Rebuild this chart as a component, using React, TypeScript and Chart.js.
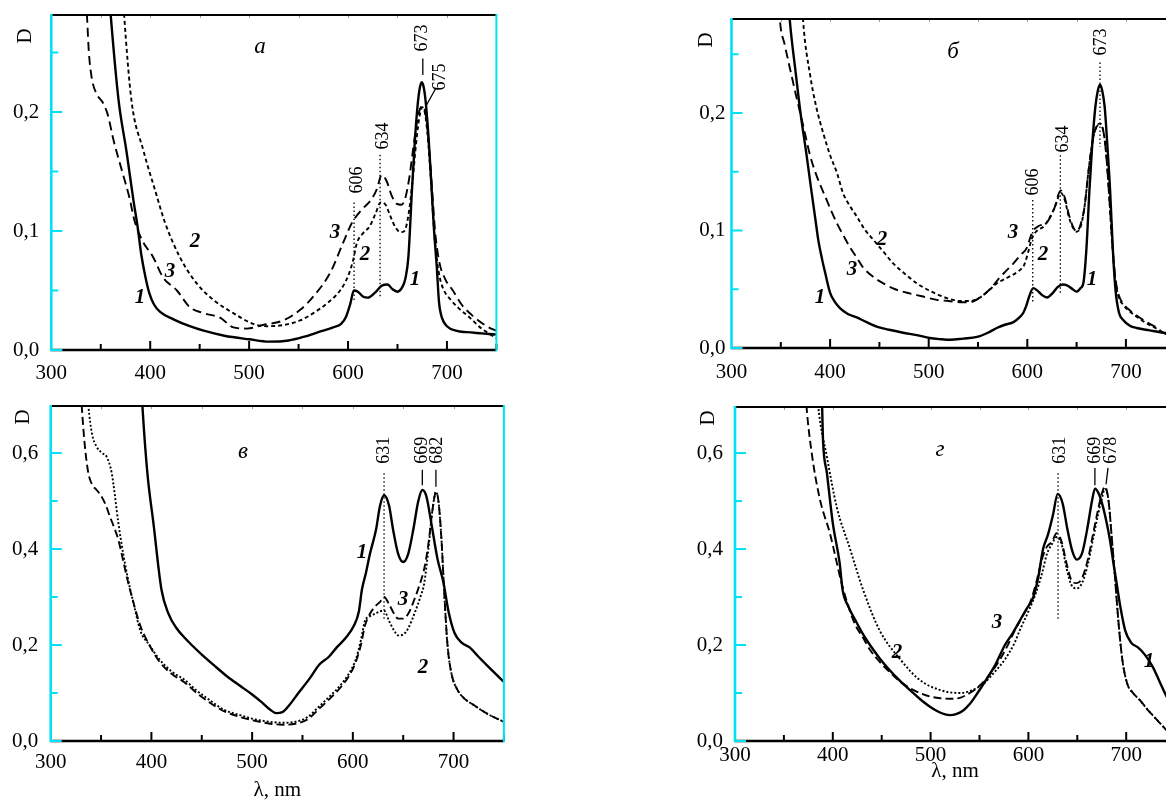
import React, { useEffect, useRef } from 'react';
import { Chart, registerables } from 'chart.js';

Chart.register(...registerables);

const SERIF = '"Liberation Serif", "Times New Roman", Times, serif';
const CYAN = '#00e2f2';

// ---------- Panel а ----------
const A1_WL = [345, 360, 368, 376, 383, 387, 391, 395, 399, 404, 410, 423, 440, 455, 475, 500, 520, 540, 555, 570, 585, 593, 598, 602, 606, 610, 615, 620, 627, 634, 640, 645, 650, 655, 658, 661, 664.6, 667.5, 670.5, 672.5, 674.6, 676.7, 678.7, 681.7, 684.6, 687, 689.7, 692, 695, 700, 710, 720, 735, 750];
const A1_D = [0.45, 0.282, 0.21, 0.167, 0.126, 0.105, 0.08, 0.062, 0.048, 0.038, 0.032, 0.026, 0.02, 0.016, 0.012, 0.009, 0.007, 0.008, 0.011, 0.015, 0.019, 0.022, 0.028, 0.038, 0.05, 0.049, 0.045, 0.044, 0.048, 0.054, 0.055, 0.051, 0.049, 0.053, 0.06, 0.078, 0.134, 0.175, 0.207, 0.22, 0.225, 0.22, 0.207, 0.175, 0.134, 0.1, 0.07, 0.04, 0.027, 0.02, 0.016, 0.015, 0.014, 0.013];
const A2_WL = [365, 373.6, 381, 393, 405, 415, 430, 447, 464, 484, 504, 518, 535, 552, 565, 580, 592, 600, 605, 609, 615, 622, 628, 633, 638, 643, 648, 653, 657, 661, 665, 669, 672, 675, 678, 681, 684, 687, 690, 693, 697, 703, 712, 722, 735, 750];
const A2_D = [0.4, 0.282, 0.21, 0.168, 0.134, 0.107, 0.078, 0.056, 0.042, 0.031, 0.022, 0.02, 0.021, 0.025, 0.031, 0.04, 0.05, 0.062, 0.075, 0.09, 0.098, 0.104, 0.115, 0.124, 0.122, 0.112, 0.103, 0.099, 0.1, 0.113, 0.14, 0.175, 0.195, 0.204, 0.198, 0.175, 0.14, 0.1, 0.075, 0.06, 0.05, 0.043, 0.035, 0.028, 0.018, 0.01];
const A3_WL = [328, 336, 338, 341, 346, 352, 357, 363, 372, 379, 384, 392, 403, 413, 427, 440, 454, 471, 484, 498, 514, 535, 552, 565, 582, 595, 604, 614, 624, 629, 634, 639, 644, 649, 654, 658, 662, 666, 670, 673, 676, 679, 682, 685, 688, 692, 698, 706, 715, 727, 740, 750];
const A3_D = [0.4, 0.282, 0.25, 0.228, 0.215, 0.208, 0.198, 0.176, 0.149, 0.128, 0.109, 0.092, 0.078, 0.061, 0.05, 0.036, 0.031, 0.027, 0.019, 0.018, 0.021, 0.025, 0.034, 0.045, 0.065, 0.09, 0.107, 0.118, 0.127, 0.135, 0.147, 0.142, 0.13, 0.123, 0.122, 0.128, 0.145, 0.17, 0.193, 0.203, 0.205, 0.195, 0.17, 0.135, 0.1, 0.075, 0.06, 0.05, 0.038, 0.028, 0.02, 0.016];

// ---------- Panel б ----------
const B1_WL = [345, 359, 365, 370, 376, 381, 385, 388, 392, 395, 400, 405, 410, 418, 427, 437, 448, 460, 474, 488, 501, 512, 522, 535, 549, 560, 569, 578, 586, 592, 596, 599, 602, 606, 610, 615, 620, 626, 631, 636, 641, 646, 650, 654, 657, 660, 663, 666, 669, 671.5, 673.7, 676, 678.5, 681, 684, 687, 689.5, 693, 697, 704, 711, 724, 738, 750];
const B1_D = [0.45, 0.28, 0.235, 0.2, 0.165, 0.134, 0.11, 0.092, 0.075, 0.064, 0.047, 0.039, 0.034, 0.029, 0.026, 0.022, 0.018, 0.0155, 0.013, 0.011, 0.0085, 0.0075, 0.007, 0.008, 0.0094, 0.013, 0.017, 0.02, 0.022, 0.026, 0.03, 0.036, 0.044, 0.051, 0.049, 0.045, 0.043, 0.047, 0.052, 0.054, 0.053, 0.05, 0.048, 0.051, 0.056, 0.085, 0.134, 0.175, 0.205, 0.219, 0.224, 0.219, 0.205, 0.175, 0.134, 0.08, 0.049, 0.03, 0.024, 0.019, 0.017, 0.015, 0.013, 0.012];
const B2_WL = [365, 372.5, 380, 386, 393, 400, 407, 413, 420, 427, 435, 444, 454, 464, 476, 488, 498, 508, 520, 532, 542, 552, 561, 569, 580, 592, 597, 601, 605, 610, 616, 622, 628, 634, 638, 642, 646, 650, 654, 658, 662, 666, 670, 673.7, 677, 680, 683, 686, 689, 692, 697, 704, 712, 721, 730, 738, 750];
const B2_D = [0.4, 0.28, 0.231, 0.205, 0.183, 0.164, 0.149, 0.132, 0.121, 0.112, 0.101, 0.092, 0.082, 0.072, 0.063, 0.055, 0.05, 0.046, 0.042, 0.04, 0.04, 0.043, 0.049, 0.055, 0.06, 0.066, 0.071, 0.082, 0.094, 0.1, 0.103, 0.11, 0.12, 0.132, 0.126, 0.112, 0.103, 0.099, 0.103, 0.12, 0.15, 0.175, 0.188, 0.191, 0.185, 0.165, 0.13, 0.09, 0.06, 0.045, 0.037, 0.031, 0.026, 0.021, 0.017, 0.013, 0.009];
const B3_WL = [340, 349, 354, 359, 366, 372.5, 380, 387, 395, 401, 407, 414, 420, 427, 433, 443, 454, 466, 478, 493, 508, 520, 532, 542, 552, 562, 572, 579, 586, 593, 600, 603, 606, 612, 620, 627, 634, 638, 642, 646, 650, 654, 658, 662, 666, 670, 673.7, 677, 680, 683, 686, 689, 692, 697, 704, 712, 721, 730, 738, 750];
const B3_D = [0.42, 0.28, 0.258, 0.239, 0.213, 0.19, 0.163, 0.145, 0.129, 0.117, 0.106, 0.095, 0.086, 0.077, 0.069, 0.061, 0.055, 0.05, 0.047, 0.044, 0.041, 0.04, 0.039, 0.039, 0.043, 0.05, 0.06, 0.066, 0.072, 0.079, 0.086, 0.094, 0.1, 0.104, 0.107, 0.118, 0.134, 0.128, 0.114, 0.104, 0.099, 0.105, 0.12, 0.15, 0.175, 0.188, 0.19, 0.185, 0.165, 0.13, 0.092, 0.062, 0.047, 0.038, 0.032, 0.027, 0.022, 0.018, 0.013, 0.009];

// ---------- Panel в ----------
const V1_WL = [386, 391, 396, 402, 410, 417, 425, 433, 440, 450, 462, 475, 488, 500, 510, 518, 524, 530, 537, 546, 557, 567, 576, 584, 593, 601, 606, 609, 613, 617, 623, 627, 631, 636, 640, 645, 650, 655, 660, 665, 669, 673, 678, 684, 690, 695, 701, 708, 716, 725, 736, 750];
const V1_D = [0.9, 0.7, 0.558, 0.454, 0.315, 0.265, 0.235, 0.215, 0.2, 0.18, 0.158, 0.135, 0.115, 0.097, 0.08, 0.065, 0.058, 0.06, 0.075, 0.1, 0.13, 0.16, 0.175, 0.195, 0.215, 0.24, 0.27, 0.315, 0.35, 0.39, 0.44, 0.49, 0.512, 0.49, 0.44, 0.39, 0.373, 0.39, 0.44, 0.5, 0.523, 0.51, 0.453, 0.38, 0.33, 0.27, 0.225, 0.205, 0.195, 0.175, 0.152, 0.123];
const V2_WL = [330, 337.4, 341, 345.7, 351, 355.6, 360.6, 367.2, 372, 377, 383, 389, 398, 408, 420, 433, 445, 458, 472, 488, 503, 518, 530, 543, 555, 568, 578, 588, 596, 603, 608, 612, 617, 622, 627, 631, 636, 641, 645, 650, 655, 662, 667, 671, 675, 679, 682.6, 685, 688, 691, 694, 698, 703, 710, 720, 735, 750];
const V2_D = [0.9, 0.698, 0.64, 0.613, 0.6, 0.592, 0.558, 0.454, 0.39, 0.335, 0.28, 0.23, 0.2, 0.17, 0.145, 0.127, 0.105, 0.085, 0.065, 0.054, 0.045, 0.04, 0.038, 0.04, 0.05, 0.075, 0.095, 0.117, 0.14, 0.17, 0.21, 0.25, 0.26, 0.265, 0.27, 0.272, 0.25, 0.23, 0.22, 0.222, 0.235, 0.27, 0.3, 0.33, 0.4, 0.48, 0.519, 0.5, 0.42, 0.3, 0.2, 0.14, 0.11, 0.09, 0.075, 0.055, 0.04];
const V3_WL = [325, 330.8, 334, 337.4, 341, 345.7, 350.6, 355, 358.9, 363, 367.2, 371, 375.5, 382, 389, 398, 408, 420, 433, 445, 458, 472, 488, 503, 518, 530, 543, 555, 568, 578, 588, 596, 603, 608, 612, 617, 622, 627, 631, 636, 641, 645, 650, 655, 662, 667, 671, 675, 679, 682.6, 685, 688, 691, 694, 698, 703, 710, 720, 735, 750];
const V3_D = [0.9, 0.698, 0.613, 0.558, 0.535, 0.523, 0.509, 0.49, 0.467, 0.445, 0.419, 0.385, 0.342, 0.29, 0.24, 0.2, 0.165, 0.14, 0.122, 0.1, 0.08, 0.062, 0.05, 0.042, 0.036, 0.034, 0.036, 0.045, 0.07, 0.09, 0.112, 0.135, 0.165, 0.2, 0.24, 0.265, 0.28, 0.29, 0.3, 0.285, 0.265, 0.255, 0.255, 0.265, 0.3, 0.33, 0.36, 0.41, 0.48, 0.519, 0.5, 0.42, 0.3, 0.2, 0.14, 0.11, 0.09, 0.075, 0.055, 0.04];

// ---------- Panel г ----------
const G1_WL = [383, 389, 390, 394, 400, 407, 410, 416, 423, 431, 438, 448, 458, 468, 479, 490, 499, 507, 514, 520, 526, 533, 540, 548, 556, 566, 576, 584, 591, 598, 605, 610, 615, 620, 625, 630, 635, 640, 645, 649.4, 655, 660, 665, 668.1, 672, 676, 680, 683.4, 687, 690.2, 694, 699, 705, 712, 719, 727, 735, 742, 750];
const G1_D = [0.9, 0.7, 0.627, 0.558, 0.454, 0.371, 0.315, 0.28, 0.252, 0.222, 0.2, 0.172, 0.148, 0.127, 0.106, 0.086, 0.072, 0.062, 0.056, 0.054, 0.056, 0.063, 0.077, 0.1, 0.125, 0.158, 0.2, 0.225, 0.25, 0.275, 0.3, 0.34, 0.4, 0.43, 0.47, 0.515, 0.495, 0.44, 0.395, 0.378, 0.392, 0.44, 0.5, 0.526, 0.515, 0.49, 0.455, 0.419, 0.37, 0.329, 0.28, 0.23, 0.205, 0.195, 0.18, 0.155, 0.12, 0.09, 0.065];
const G2_WL = [378, 385, 394, 404, 418, 431, 448, 469, 489, 510, 530, 545, 556, 566, 576, 586, 591, 600, 608, 614, 619, 624, 628.9, 634, 639, 644, 649.4, 655, 661, 666, 671, 675, 678.3, 682, 685, 688.5, 692, 696, 701, 707, 714, 722, 731, 741, 750];
const G2_D = [0.9, 0.7, 0.592, 0.488, 0.398, 0.315, 0.23, 0.17, 0.127, 0.106, 0.1, 0.108, 0.123, 0.145, 0.17, 0.205, 0.23, 0.27, 0.31, 0.35, 0.39, 0.41, 0.425, 0.41, 0.36, 0.325, 0.318, 0.33, 0.37, 0.42, 0.47, 0.505, 0.525, 0.5, 0.43, 0.342, 0.25, 0.17, 0.12, 0.1, 0.085, 0.065, 0.045, 0.023, 0.005];
const G3_WL = [367, 373, 379, 387, 397, 409, 416, 423, 431, 438, 448, 458, 468, 479, 489, 499, 510, 520, 530, 540, 550, 561, 571, 579, 586, 594, 602, 608, 614, 619, 624, 628.9, 634, 639, 644, 649.4, 655, 661, 666, 671, 675, 678.3, 682, 685, 688.5, 692, 696, 701, 707, 714, 722, 731, 741, 750];
const G3_D = [0.9, 0.7, 0.592, 0.502, 0.433, 0.329, 0.28, 0.242, 0.215, 0.19, 0.165, 0.144, 0.125, 0.11, 0.1, 0.093, 0.089, 0.088, 0.09, 0.1, 0.115, 0.14, 0.17, 0.2, 0.23, 0.26, 0.29, 0.33, 0.38, 0.405, 0.415, 0.433, 0.415, 0.37, 0.335, 0.329, 0.34, 0.38, 0.43, 0.48, 0.515, 0.53, 0.5, 0.43, 0.342, 0.25, 0.17, 0.12, 0.1, 0.085, 0.065, 0.045, 0.023, 0.005];

type Kind = 'solid' | 'short' | 'long' | 'dot' | 'dash';
type Txt = { t: string; x: number; y: number; size?: number; style?: string; rot?: boolean };
type Seg = { x1: number; y1: number; x2: number; y2: number; dash?: number[]; w?: number };
interface PanelCfg {
  box: { left: number; top: number; w: number; h: number };
  area: { l: number; t: number; r: number; b: number };
  yMax: number;
  yStep: number;
  yMinor: number;
  sets: { wl: number[]; d: number[]; kind: Kind }[];
  texts: Txt[];
  segs: Seg[];
  xPad: number;
  yPad: number;
  xTitlePad?: number;
  rightBorder: boolean;
  dOff: { dx: number; dy: number };
}

const STYLE: Record<Kind, { borderWidth: number; borderDash: number[] }> = {
  solid: { borderWidth: 2.4, borderDash: [] },
  short: { borderWidth: 1.9, borderDash: [4, 3] },
  long: { borderWidth: 1.9, borderDash: [9, 5] },
  dot: { borderWidth: 1.9, borderDash: [2, 2] },
  dash: { borderWidth: 1.9, borderDash: [8, 4] },
};

const DOT = [1.5, 2.5];
const BI = 'italic bold';

const PANELS: PanelCfg[] = [
  {
    box: { left: 0, top: 0, w: 530, h: 390 },
    area: { l: 51.3, t: 15, r: 496.4, b: 350 },
    yMax: 0.2815, yStep: 0.1, yMinor: 0.05,
    sets: [
      { wl: A1_WL, d: A1_D, kind: 'solid' },
      { wl: A2_WL, d: A2_D, kind: 'short' },
      { wl: A3_WL, d: A3_D, kind: 'long' },
    ],
    texts: [
      { t: 'а', x: 511, y: 0.2546, size: 23, style: 'italic' },
      { t: '1', x: 389.7, y: 0.0437, style: BI },
      { t: '3', x: 420, y: 0.0655, style: BI },
      { t: '2', x: 445.3, y: 0.0908, style: BI },
      { t: '3', x: 586.9, y: 0.0983, style: BI },
      { t: '2', x: 617.2, y: 0.0798, style: BI },
      { t: '1', x: 667.8, y: 0.0588, style: BI },
      { t: '606', x: 609.1, y: 0.1429, size: 18, rot: true },
      { t: '634', x: 635.4, y: 0.1798, size: 18, rot: true },
      { t: '673', x: 674.8, y: 0.2622, size: 18, rot: true },
      { t: '675', x: 693, y: 0.2294, size: 18, rot: true },
    ],
    segs: [
      { x1: 606.1, y1: 0.124, x2: 606.1, y2: 0.04, dash: DOT },
      { x1: 632.4, y1: 0.164, x2: 632.4, y2: 0.045, dash: DOT },
      { x1: 675.6, y1: 0.245, x2: 675.6, y2: 0.231 },
      { x1: 688.9, y1: 0.2202, x2: 678.8, y2: 0.205 },
    ],
    xPad: 10.4, yPad: 12, rightBorder: true, dOff: { dx: -26, dy: 21 },
  },
  {
    box: { left: 690, top: 0, w: 500, h: 390 },
    area: { l: 731.5, t: 19, r: 1175.2, b: 348 },
    yMax: 0.28, yStep: 0.1, yMinor: 0.05,
    sets: [
      { wl: B1_WL, d: B1_D, kind: 'solid' },
      { wl: B2_WL, d: B2_D, kind: 'short' },
      { wl: B3_WL, d: B3_D, kind: 'long' },
    ],
    texts: [
      { t: 'б', x: 524.6, y: 0.2519, size: 23, style: 'italic' },
      { t: '1', x: 389.8, y: 0.0426, style: BI },
      { t: '3', x: 422.2, y: 0.0664, style: BI },
      { t: '2', x: 452.6, y: 0.0919, style: BI },
      { t: '3', x: 585.5, y: 0.0979, style: BI },
      { t: '2', x: 615.9, y: 0.0791, style: BI },
      { t: '1', x: 665.6, y: 0.0579, style: BI },
      { t: '606', x: 605.8, y: 0.1413, size: 18, rot: true },
      { t: '634', x: 636.2, y: 0.1779, size: 18, rot: true },
      { t: '673', x: 674.8, y: 0.2604, size: 18, rot: true },
    ],
    segs: [
      { x1: 605.5, y1: 0.126, x2: 605.5, y2: 0.038, dash: DOT },
      { x1: 633.5, y1: 0.164, x2: 633.5, y2: 0.047, dash: DOT },
      { x1: 673.7, y1: 0.243, x2: 673.7, y2: 0.171, dash: DOT },
    ],
    xPad: 12, yPad: 6, rightBorder: true, dOff: { dx: -25.5, dy: 21 },
  },
  {
    box: { left: 0, top: 390, w: 530, h: 420 },
    area: { l: 50.7, t: 406, r: 503.9, b: 741 },
    yMax: 0.698, yStep: 0.2, yMinor: 0.1,
    sets: [
      { wl: V1_WL, d: V1_D, kind: 'solid' },
      { wl: V2_WL, d: V2_D, kind: 'dot' },
      { wl: V3_WL, d: V3_D, kind: 'dash' },
    ],
    texts: [
      { t: 'в', x: 491, y: 0.602, size: 23, style: 'italic' },
      { t: '1', x: 609.2, y: 0.392, style: BI },
      { t: '3', x: 649.9, y: 0.294, style: BI },
      { t: '2', x: 669.7, y: 0.152, style: BI },
      { t: '631', x: 631, y: 0.606, size: 18, rot: true },
      { t: '669', x: 668.7, y: 0.606, size: 18, rot: true },
      { t: '682', x: 683.6, y: 0.606, size: 18, rot: true },
    ],
    segs: [
      { x1: 631, y1: 0.558, x2: 631, y2: 0.25, dash: DOT },
      { x1: 669, y1: 0.565, x2: 669, y2: 0.533 },
      { x1: 682.5, y1: 0.565, x2: 682.5, y2: 0.53 },
    ],
    xPad: 8.4, yPad: 12.5, xTitlePad: 7, rightBorder: true, dOff: { dx: -27, dy: 11 },
  },
  {
    box: { left: 690, top: 390, w: 500, h: 420 },
    area: { l: 735, t: 407, r: 1175.1, b: 741 },
    yMax: 0.696, yStep: 0.2, yMinor: 0.1,
    sets: [
      { wl: G1_WL, d: G1_D, kind: 'solid' },
      { wl: G2_WL, d: G2_D, kind: 'dot' },
      { wl: G3_WL, d: G3_D, kind: 'dash' },
    ],
    texts: [
      { t: 'г', x: 509.6, y: 0.606, size: 23, style: 'italic' },
      { t: '2', x: 465.6, y: 0.185, style: BI },
      { t: '3', x: 567.9, y: 0.246, style: BI },
      { t: '1', x: 723.3, y: 0.165, style: BI },
      { t: '631', x: 632.3, y: 0.606, size: 18, rot: true },
      { t: '669', x: 668.1, y: 0.606, size: 18, rot: true },
      { t: '678', x: 684.5, y: 0.606, size: 18, rot: true },
    ],
    segs: [
      { x1: 630.3, y1: 0.558, x2: 630.3, y2: 0.25, dash: DOT },
      { x1: 668, y1: 0.569, x2: 668, y2: 0.533 },
      { x1: 681.4, y1: 0.569, x2: 679.4, y2: 0.535 },
    ],
    xPad: 2, yPad: 12, xTitlePad: 26, rightBorder: true, dOff: { dx: -27, dy: 11 },
  },
];

function framePlugin(cfg: PanelCfg) {
  return {
    id: 'frame',
    afterDraw(chart: any) {
      const ctx: CanvasRenderingContext2D = chart.ctx;
      const { left, right, top, bottom } = chart.chartArea;
      const xs = chart.scales.x;
      const ys = chart.scales.y;
      ctx.save();
      ctx.lineCap = 'butt';
      // annotation segments
      for (const s of cfg.segs) {
        ctx.beginPath();
        ctx.setLineDash(s.dash || []);
        ctx.lineWidth = s.w || 1.3;
        ctx.strokeStyle = '#000';
        ctx.moveTo(xs.getPixelForValue(s.x1), ys.getPixelForValue(s.y1));
        ctx.lineTo(xs.getPixelForValue(s.x2), ys.getPixelForValue(s.y2));
        ctx.stroke();
      }
      ctx.setLineDash([]);
      // top border
      ctx.strokeStyle = '#000';
      ctx.lineWidth = 2;
      ctx.beginPath();
      ctx.moveTo(left, top);
      ctx.lineTo(right, top);
      ctx.stroke();
      // tiny top ticks
      ctx.strokeStyle = '#9a9a9a';
      ctx.lineWidth = 1;
      for (let v = 350; v < 750; v += 50) {
        const px = Math.round(xs.getPixelForValue(v)) + 0.5;
        ctx.beginPath();
        ctx.moveTo(px, top + 1);
        ctx.lineTo(px, top + 3);
        ctx.stroke();
      }
      // bottom axis
      ctx.strokeStyle = '#000';
      ctx.lineWidth = 2.6;
      ctx.beginPath();
      ctx.moveTo(left, bottom);
      ctx.lineTo(right, bottom);
      ctx.stroke();
      ctx.lineWidth = 2;
      for (let v = 350; v <= 750; v += 50) {
        const px = xs.getPixelForValue(v);
        const len = v % 100 === 0 ? 9 : 6;
        ctx.beginPath();
        ctx.moveTo(px, bottom);
        ctx.lineTo(px, bottom - len);
        ctx.stroke();
      }
      // left axis (cyan)
      ctx.strokeStyle = CYAN;
      ctx.lineWidth = 2.6;
      ctx.beginPath();
      ctx.moveTo(left, top - 1);
      ctx.lineTo(left, bottom + 1.3);
      ctx.stroke();
      ctx.lineWidth = 2;
      const n = Math.floor(cfg.yMax / cfg.yMinor + 1e-6);
      for (let i = 0; i <= n; i++) {
        const v = i * cfg.yMinor;
        const py = ys.getPixelForValue(v);
        const major = Math.abs(v / cfg.yStep - Math.round(v / cfg.yStep)) < 1e-6;
        const len = major ? 11 : 7;
        ctx.beginPath();
        ctx.moveTo(left, py);
        ctx.lineTo(left + len, py);
        ctx.stroke();
      }
      if (cfg.rightBorder) {
        ctx.lineWidth = 2;
        ctx.beginPath();
        ctx.moveTo(right, top - 1);
        ctx.lineTo(right, bottom + 1.3);
        ctx.stroke();
      }
      // D label
      ctx.fillStyle = '#000';
      ctx.textAlign = 'center';
      ctx.textBaseline = 'middle';
      ctx.save();
      ctx.translate(left + cfg.dOff.dx, top + cfg.dOff.dy);
      ctx.rotate(-Math.PI / 2);
      ctx.font = `21px ${SERIF}`;
      ctx.fillText('D', 0, 0);
      ctx.restore();
      // texts
      for (const t of cfg.texts) {
        const px = xs.getPixelForValue(t.x);
        const py = ys.getPixelForValue(t.y);
        ctx.font = `${t.style || ''} ${t.size || 21}px ${SERIF}`;
        ctx.save();
        ctx.translate(px, py);
        if (t.rot) ctx.rotate(-Math.PI / 2);
        ctx.fillText(t.t, 0, 0);
        ctx.restore();
      }
      ctx.restore();
    },
  };
}

function clearPad(s: any) {
  s.paddingTop = 0;
  s.paddingBottom = 0;
  s.paddingLeft = 0;
  s.paddingRight = 0;
}

function Panel({ cfg }: { cfg: PanelCfg }) {
  const ref = useRef<HTMLCanvasElement>(null);
  useEffect(() => {
    const c = ref.current!;
    const { box, area } = cfg;
    const chart = new Chart(c, {
      type: 'line',
      data: {
        datasets: cfg.sets.map((s) => ({
          data: s.wl.map((x, i) => ({ x, y: s.d[i] })),
          borderColor: '#000',
          backgroundColor: '#000',
          pointRadius: 0,
          fill: false,
          cubicInterpolationMode: 'monotone' as const,
          ...STYLE[s.kind],
        })),
      },
      options: {
        responsive: false,
        animation: false,
        devicePixelRatio: 1,
        events: [],
        layout: { padding: { left: 0, top: area.t - box.top, right: box.left + box.w - area.r, bottom: 0 } },
        plugins: { legend: { display: false }, tooltip: { enabled: false } },
        scales: {
          x: {
            type: 'linear',
            min: 300,
            max: 750,
            grid: { display: false, drawTicks: false },
            border: { display: false },
            ticks: {
              stepSize: 100,
              includeBounds: false,
              autoSkip: false,
              maxRotation: 0,
              padding: cfg.xPad,
              color: '#000',
              font: { family: SERIF, size: 21 },
              callback: (v: any) => (Number(v) % 100 === 0 ? String(v) : ''),
            },
            title: cfg.xTitlePad != null
              ? { display: true, text: 'λ, nm', color: '#000', font: { family: SERIF, size: 21 }, padding: { top: 0, bottom: cfg.xTitlePad } }
              : { display: false },
            afterFit: (s: any) => { s.height = box.top + box.h - area.b; clearPad(s); },
          },
          y: {
            min: 0,
            max: cfg.yMax,
            grid: { display: false, drawTicks: false },
            border: { display: false },
            ticks: {
              stepSize: cfg.yStep,
              includeBounds: false,
              padding: cfg.yPad,
              color: '#000',
              font: { family: SERIF, size: 21 },
              callback: (v: any) => Number(v).toFixed(1).replace('.', ','),
            },
            afterFit: (s: any) => { s.width = area.l - box.left; clearPad(s); },
          },
        },
      } as any,
      plugins: [framePlugin(cfg)],
    });
    return () => chart.destroy();
  }, [cfg]);
  return (
    <canvas
      ref={ref}
      width={cfg.box.w}
      height={cfg.box.h}
      style={{ position: 'absolute', left: cfg.box.left, top: cfg.box.top, display: 'block' }}
    />
  );
}

export default function App() {
  return (
    <div style={{ position: 'fixed', left: 0, top: 0, width: 1166, height: 800, overflow: 'hidden', background: '#fff' }}>
      {PANELS.map((p, i) => (
        <Panel key={i} cfg={p} />
      ))}
    </div>
  );
}
